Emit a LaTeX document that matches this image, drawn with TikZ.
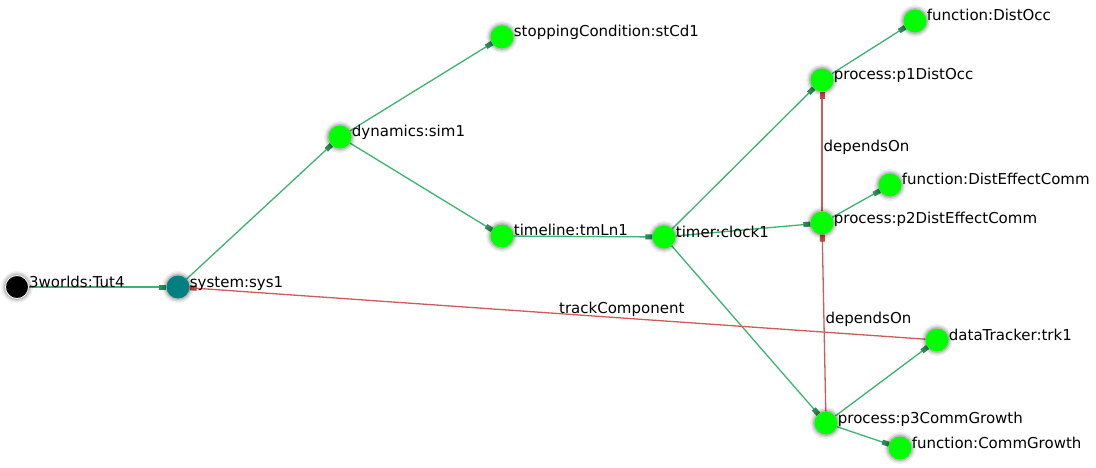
\documentclass[tikz,border=0pt]{standalone}
\usepackage{fontspec}
\setmainfont{DejaVu Sans}
\usetikzlibrary{arrows.meta,positioning}
\definecolor{entgreen}{RGB}{0,255,0}
\definecolor{entteal}{RGB}{0,128,128}
\definecolor{linkgreen}{RGB}{60,179,113}
\definecolor{tipgreen}{RGB}{46,139,87}
\definecolor{linkred}{RGB}{205,92,92}
\definecolor{tipred}{RGB}{190,70,70}
\pgfdeclarelayer{background}
\pgfsetlayers{background,main}
\begin{document}
\begin{tikzpicture}[x=1pt,y=-1pt]
\tikzset{
    entity/.style={
       circle, inner sep=0pt, minimum size=23pt,
       fill=entgreen,
       preaction={draw=black, line width=9pt, opacity=0.06},
       preaction={draw=black, line width=6pt, opacity=0.09},
       preaction={draw=black, line width=3pt, opacity=0.14},
       label={[anchor=base west, inner sep=0pt, font=\fontsize{15}{16}\selectfont]east:#1}
    },
   child link/.style={
     draw=linkgreen, line width=1.3pt,
     -{Rectangle[length=7pt,width=5pt,color=tipgreen]}
   },
   cross link/.style={
     draw=linkred, line width=1.3pt,
     -{Rectangle[length=7pt,width=5pt,color=tipred]}
   },
   link label/.style={
     anchor=base west, inner sep=1pt,
     font=\fontsize{15}{16}\selectfont
   }
}
%
\useasboundingbox (0,0) rectangle (1096,468);

% nodes
\node[entity={3worlds:Tut4}, fill=black, draw=white, line width=0.8pt] (tut) at (17,287) {};
\node[entity={system:sys1}, fill=entteal] (sys) at (178,287) {};
\node[entity={dynamics:sim1}] (sim) at (340,137) {};
\node[entity={stoppingCondition:stCd1}] (stcd) at (502,37) {};
\node[entity={timeline:tmLn1}] (tmln) at (502,236) {};
\node[entity={timer:clock1}] (clock) at (664,237) {};
\node[entity={process:p1DistOcc}] (pone) at (822,80) {};
\node[entity={function:DistOcc}] (fone) at (915,21) {};
\node[entity={function:DistEffectComm}] (ftwo) at (890,185) {};
\node[entity={process:p2DistEffectComm}] (ptwo) at (822,223) {};
\node[entity={dataTracker:trk1}] (trk) at (937,340) {};
\node[entity={process:p3CommGrowth}] (pthree) at (826,423) {};
\node[entity={function:CommGrowth}] (fthree) at (900,448) {};

% edges, behind the nodes and their texts
\begin{pgfonlayer}{background}
\fill[white] (0,0) rectangle (1096,468);
\draw[child link] (tut) -- (sys);
\draw[child link] (sys) -- (sim);
\draw[child link] (sim) -- (stcd);
\draw[child link] (sim) -- (tmln);
\draw[child link] (tmln) -- (clock);
\draw[child link] (clock) -- (pone);
\draw[child link] (clock) -- (ptwo);
\draw[child link] (clock) -- (pthree);
\draw[child link] (pone) -- (fone);
\draw[child link] (ptwo) -- (ftwo);
\draw[child link] (pthree) -- (trk);
\draw[child link] (pthree) -- (fthree);
\draw[cross link] (ptwo) -- node[link label] {dependsOn} (pone);
\draw[cross link] (pthree) -- node[link label] {dependsOn} (ptwo);
\draw[cross link] (trk) -- node[link label] {trackComponent} (sys);
\end{pgfonlayer}
\end{tikzpicture}
\end{document}
